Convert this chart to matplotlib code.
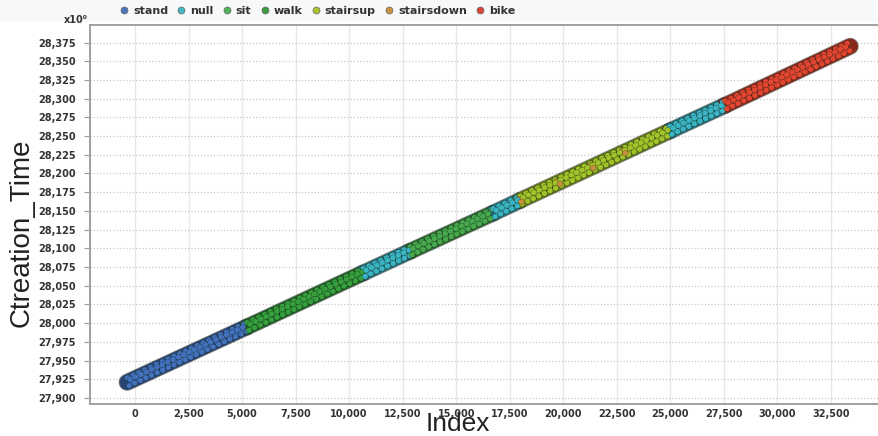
import matplotlib
matplotlib.use('Agg')
import matplotlib.pyplot as plt
import matplotlib.patheffects as pe
from matplotlib.lines import Line2D
from matplotlib.patches import Rectangle
from matplotlib.ticker import FuncFormatter
import matplotlib.colors as mcolors

# ---- data ----
activities = ['stand', 'null', 'sit', 'walk', 'stairsup', 'stairsdown', 'bike']
act_colors = ['#4a78bc', '#44b9c4', '#4fb35a', '#3a9c3c', '#a9c42e', '#c99040', '#dc4433']
band_colors = ['#4272bd', '#3ab5c4', '#46aa4d', '#35a03c', '#a2c428', '#cc8e3a', '#e4452f']

seg_labels = ['stand', 'walk', 'null', 'sit', 'null', 'stairsup', 'null', 'bike']
seg_start_idx = [-370, 5230, 10650, 12840, 16720, 17980, 24980, 27550]
seg_end_idx = [5230, 10650, 12840, 16720, 17980, 24980, 27550, 33400]
seg_start_val = [27921, 27995, 28067, 28096, 28147, 28164, 28257, 28291]
seg_end_val = [27995, 28067, 28096, 28147, 28164, 28257, 28291, 28370]

# small stairsdown pieces inside the stairsup stretch
sd_start_idx = [17900, 19700, 21250, 22750]
sd_end_idx = [18150, 19950, 21500, 23000]
sd_start_val = [28163, 28187, 28208, 28228]
sd_end_val = [28166, 28190, 28211, 28231]

x_ticks = list(range(0, 32501, 2500))
y_ticks = list(range(27900, 28376, 25))

# ---- figure ----
W, H = 879, 436
fig = plt.figure(figsize=(W / 100, H / 100), dpi=100)
fig.patch.set_facecolor('white')
fig.patches.append(Rectangle((0, 1 - 22 / H), 1, 22 / H, transform=fig.transFigure,
                             facecolor='#f6f8fa', edgecolor='none', zorder=0))

ax = fig.add_axes([90 / W, 1 - 404 / H, 1 - 90 / W, (404 - 25) / H])
ax.set_xlim(-2101, 34742)
ax.set_ylim(27892, 28398.4)

ax.set_xticks(x_ticks)
ax.set_yticks(y_ticks)
fmt = FuncFormatter(lambda v, p: f'{int(round(v)):,}')
ax.xaxis.set_major_formatter(fmt)
ax.yaxis.set_major_formatter(fmt)

for lab in ax.get_xticklabels() + ax.get_yticklabels():
    lab.set_fontsize(7)
    lab.set_fontweight('bold')
    lab.set_color('#333333')
ax.tick_params(axis='y', length=4, width=0.8, color='#999999', pad=6)
ax.tick_params(axis='x', length=0, pad=3.5)

ax.grid(axis='x', color='#ece4e4', lw=0.9, ls='-')
ax.grid(axis='y', color='#c8c8c8', lw=0.9, ls=(0, (1, 1.6)))
ax.set_axisbelow(True)

for s in ['left', 'bottom', 'top']:
    ax.spines[s].set_color('#a0a0a0')
    ax.spines[s].set_linewidth(1.4)
ax.spines['right'].set_visible(False)


def darker(c, f):
    r, g, b = mcolors.to_rgb(c)
    return (r * f, g * f, b * f)


def draw(x0, x1, y0, y1, label, lw=11, rows=(5.8, 2.0, -2.0, -5.8)):
    i = activities.index(label)
    base = band_colors[i]
    ln, = ax.plot([x0, x1], [y0, y1], color=darker(base, 0.6), lw=lw,
                  solid_capstyle='round', zorder=3)
    ln.set_path_effects([pe.Stroke(linewidth=lw + 1.2, foreground='#1a1f1a', alpha=0.55),
                         pe.Normal()])
    offs = [(0, (0.1, 1.15)), (0.55, (0.1, 1.05)), (0.25, (0.1, 1.2)), (0.8, (0.1, 1.1))]
    for k, dy in enumerate(rows):
        d, = ax.plot([x0, x1], [y0 + dy, y1 + dy], color=base, lw=3.7,
                     ls=offs[k % 4], dash_capstyle='round', zorder=4 + k % 2)
        d.set_path_effects([pe.Stroke(linewidth=4.4, foreground='#15201a', alpha=0.5),
                            pe.Normal()])


for x0, x1, y0, y1, lab in zip(seg_start_idx, seg_end_idx, seg_start_val, seg_end_val, seg_labels):
    draw(x0, x1, y0, y1, lab)
for x0, x1, y0, y1 in zip(sd_start_idx, sd_end_idx, sd_start_val, sd_end_val):
    draw(x0, x1, y0, y1, 'stairsdown', lw=6, rows=(2.5, -2.5))

# axis titles
fig.text(458 / W, 1 - 431 / H, 'Index', ha='center', va='baseline', fontsize=19,
         family=['Liberation Sans', 'DejaVu Sans'], color='#222222')
fig.text(22 / W, 1 - 233 / H, 'Ctreation_Time', ha='center', va='center', rotation=90,
         fontsize=20, family=['Liberation Sans', 'DejaVu Sans'], color='#222222')
fig.text(88 / W, 1 - 20 / H, 'x10⁰', ha='right', va='center', fontsize=7,
         fontweight='bold', color='#333333')

# legend
handles = [Line2D([], [], ls='none', marker='o', markersize=5, markerfacecolor=c,
                  markeredgecolor='#666666', markeredgewidth=0.5) for c in act_colors]
leg = fig.legend(handles, activities, loc='center', bbox_to_anchor=(318 / W, 1 - 11 / H),
                 ncol=7, frameon=False, handlelength=0.6, handletextpad=0.5,
                 columnspacing=0.9, borderaxespad=0, prop={'size': 8, 'weight': 'bold'})
for t in leg.get_texts():
    t.set_color('#333333')

fig.savefig('out.png', dpi=100)
